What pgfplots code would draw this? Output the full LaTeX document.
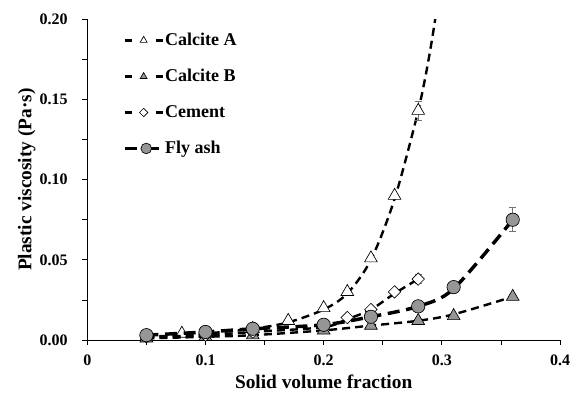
\documentclass[border=0pt]{standalone}
\usepackage{pgfplots}
\pgfplotsset{compat=1.18}
\usepackage{fontspec}
\setmainfont{Liberation Serif}
\definecolor{mgray}{RGB}{150,150,150}
\definecolor{egray}{RGB}{115,115,115}
\begin{document}
\begin{tikzpicture}
\begin{axis}[
  scale only axis, width=354.5pt, height=240.5pt,
  xmin=0, xmax=0.4, ymin=0, ymax=0.2,
  axis x line*=bottom, axis y line*=left,
  axis line style={line width=0.6pt},
  xtick={0,0.1,0.2,0.3,0.4}, ytick={0,0.05,0.1,0.15,0.2},
  minor xtick={0.05,0.15,0.25,0.35}, minor ytick={0.025,0.075,0.125,0.175},
  tick align=outside, major tick length=3.75pt, minor tick length=3.75pt,
  tick style={black, line width=0.6pt},
  ticklabel style={font=\bfseries\fontsize{12}{14}\selectfont},
  /pgf/number format/assume math mode=true,
  scaled ticks=false,
  yticklabel style={xshift=-7.5pt, /pgf/number format/fixed, /pgf/number format/fixed zerofill, /pgf/number format/precision=2},
  xticklabel style={yshift=-4pt, /pgf/number format/fixed},
  xlabel={Solid volume fraction}, ylabel={Plastic viscosity (Pa·s)},
  label style={font=\bfseries\fontsize{14.5}{16}\selectfont},
  ylabel shift=-3.75pt,
  clip mode=individual,
  legend style={at={(0.075,0.962)}, anchor=north west, draw=none, fill=none, inner sep=0pt, row sep=14.3pt,
    font=\bfseries\fontsize{13.5}{15}\selectfont, nodes={inner sep=1pt}},
  legend cell align=left,
]
% ---- legend images
\addlegendimage{legend image code/.code={
  \draw[line width=1.8pt] (0pt,0pt)--(5.25pt,0pt);
  \draw[line width=1.8pt] (23.25pt,0pt)--(28.5pt,0pt);
  \draw[mark=triangle*, mark size=3pt, mark options={fill=white, draw=black, line width=0.5pt}] plot coordinates {(14.25pt,0pt)};}}
\addlegendentry{Calcite A}
\addlegendimage{legend image code/.code={
  \draw[line width=1.8pt] (0pt,0pt)--(5.25pt,0pt);
  \draw[line width=1.8pt] (23.25pt,0pt)--(28.5pt,0pt);
  \draw[mark=triangle*, mark size=3pt, mark options={fill=mgray, draw=black, line width=0.5pt}] plot coordinates {(14.25pt,0pt)};}}
\addlegendentry{Calcite B}
\addlegendimage{legend image code/.code={
  \draw[line width=1.8pt] (0pt,0pt)--(5.25pt,0pt);
  \draw[line width=1.8pt] (23.25pt,0pt)--(28.5pt,0pt);
  \draw[mark=square*, mark size=2.2pt, mark options={fill=white, draw=black, line width=0.5pt, rotate=45}] plot coordinates {(14.25pt,0pt)};}}
\addlegendentry{Cement}
\addlegendimage{legend image code/.code={
  \draw[line width=2.4pt] (0pt,0pt)--(9pt,0pt);
  \draw[line width=2.4pt] (20pt,0pt)--(26pt,0pt);
  \draw[mark=*, mark size=4pt, mark options={fill=mgray, draw=black, line width=0.5pt}] plot coordinates {(16.2pt,0pt)};}}
\addlegendentry{Fly ash}
% ---- Calcite A
\addplot[forget plot, smooth, line width=1.8pt, dash pattern=on 6pt off 3.8pt] coordinates {
 (0.05,0.002) (0.08,0.003) (0.10,0.004) (0.14,0.007) (0.17,0.011) (0.20,0.019) (0.22,0.029) (0.24,0.050) (0.26,0.088) (0.28,0.143) (0.29,0.180) (0.30,0.227)};
\addplot[forget plot, draw=none, mark=none, error bars/.cd, y dir=both, y explicit,
  error bar style={egray, line width=0.6pt}, error mark options={egray, rotate=90, mark size=2.6pt, line width=0.6pt}]
  coordinates {(0.28,0.143) +- (0,0.006)};
\addplot[forget plot, only marks, mark=triangle*, mark size=5.5pt, mark options={fill=white, draw=black, line width=0.5pt}] coordinates {
 (0.05,0.002) (0.08,0.004) (0.10,0.004) (0.14,0.007) (0.17,0.012) (0.20,0.020) (0.22,0.030) (0.24,0.051) (0.26,0.090) (0.28,0.143)};
% ---- Calcite B
\addplot[forget plot, smooth, line width=1.8pt, dash pattern=on 6pt off 3.8pt] coordinates {
 (0.05,0.001) (0.10,0.002) (0.14,0.003) (0.20,0.006) (0.24,0.009) (0.28,0.012) (0.31,0.016) (0.36,0.027)};
\addplot[forget plot, only marks, mark=triangle*, mark size=5.5pt, mark options={fill=mgray, draw=black, line width=0.5pt}] coordinates {
 (0.05,0.001) (0.10,0.002) (0.14,0.003) (0.20,0.006) (0.24,0.009) (0.28,0.012) (0.31,0.015) (0.36,0.027)};
% ---- Cement
\addplot[forget plot, smooth, line width=1.8pt, dash pattern=on 6pt off 3.8pt] coordinates {
 (0.05,0.002) (0.10,0.003) (0.14,0.005) (0.20,0.008) (0.22,0.013) (0.24,0.019) (0.26,0.029) (0.28,0.038)};
\addplot[forget plot, draw=none, mark=none, error bars/.cd, y dir=both, y explicit,
  error bar style={egray, line width=0.6pt}, error mark options={egray, rotate=90, mark size=2.6pt, line width=0.6pt}]
  coordinates {(0.28,0.038) +- (0,0.003)};
\addplot[forget plot, only marks, mark=square*, mark size=3.3pt, mark options={fill=white, draw=black, line width=0.5pt, rotate=45}] coordinates {
 (0.05,0.002) (0.10,0.003) (0.14,0.005) (0.20,0.009) (0.22,0.014) (0.24,0.019) (0.26,0.030) (0.28,0.038)};
% ---- Fly ash
\addplot[forget plot, smooth, line width=2.6pt, dash pattern=on 9pt off 5pt] coordinates {
 (0.05,0.003) (0.10,0.005) (0.14,0.007) (0.20,0.0095) (0.24,0.0145) (0.28,0.021) (0.31,0.032) (0.36,0.075)};
\addplot[forget plot, draw=none, mark=none, error bars/.cd, y dir=both, y explicit,
  error bar style={egray, line width=0.6pt}, error mark options={egray, rotate=90, mark size=2.6pt, line width=0.6pt}]
  coordinates {(0.36,0.075) +- (0,0.0075)};
\addplot[forget plot, only marks, mark=*, mark size=5pt, mark options={fill=mgray, draw=black, line width=0.5pt}] coordinates {
 (0.05,0.003) (0.10,0.005) (0.14,0.007) (0.20,0.0095) (0.24,0.0145) (0.28,0.021) (0.31,0.033) (0.36,0.075)};
\end{axis}
\pgfresetboundingbox
\path ([xshift=-65.5pt,yshift=-41.25pt]current axis.south west) rectangle ([xshift=15.75pt,yshift=14.5pt]current axis.north east);
\end{tikzpicture}
\end{document}
